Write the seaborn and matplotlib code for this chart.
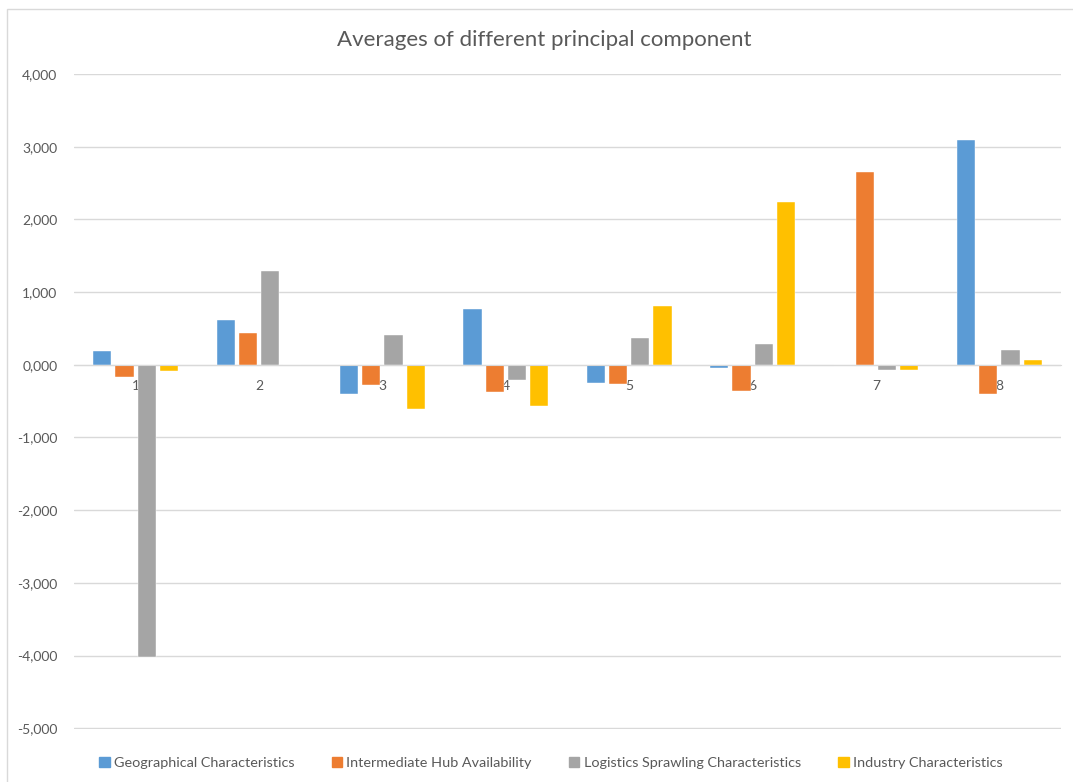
import seaborn as sns
import matplotlib.pyplot as plt
import matplotlib.patches as mpatches
from matplotlib.ticker import FuncFormatter
import pandas as pd

# componenti principali (asse x)
componenti = ["1", "2", "3", "4", "5", "6", "7", "8"]
serie = ["Geographical Characteristics", "Intermediate Hub Availability",
         "Logistics Sprawling Characteristics", "Industry Characteristics"]

# valori medi
geografiche = [0.183, 0.614, -0.403, 0.774, -0.252, -0.046, -0.023, 3.097]
hub = [-0.169, 0.435, -0.279, -0.381, -0.261, -0.367, 2.649, -0.399]
sprawling = [-4.014, 1.292, 0.403, -0.210, 0.375, 0.289, -0.078, 0.206]
industria = [-0.082, 0.0, -0.614, -0.573, 0.807, 2.237, -0.073, 0.064]

colori = ["#5B9BD5", "#ED7D31", "#A5A5A5", "#FFC000"]
grigio_testo = "#595959"

righe = []
for nome, valori in zip(serie, [geografiche, hub, sprawling, industria]):
    for c, v in zip(componenti, valori):
        righe.append({"componente": c, "serie": nome, "valore": v})
df = pd.DataFrame(righe)

sns.set_style("white")
plt.rcParams['font.family'] = ['Lato', 'DejaVu Sans']

fig = plt.figure(figsize=(10.73, 7.82), dpi=100)
ax = fig.add_axes([74 / 1073, 53 / 782, 987 / 1073, 655 / 782])

sns.barplot(data=df, x="componente", y="valore", hue="serie", order=componenti,
            hue_order=serie, palette=colori, saturation=1, width=0.72, gap=0.18,
            edgecolor="white", linewidth=0.3, ax=ax, legend=True)

ax.set_ylim(-5.01, 4)
ax.set_xlim(-0.5, 7.5)
ax.set_yticks(range(-5, 5))
ax.yaxis.set_major_formatter(FuncFormatter(lambda v, p: f"{v:.3f}".replace(".", ",")))
ax.grid(axis="y", color="#D9D9D9", linewidth=1)
ax.set_axisbelow(True)
for s in ["top", "right", "left"]:
    ax.spines[s].set_visible(False)
ax.spines["bottom"].set_position(("data", 0))
ax.spines["bottom"].set_color("#D9D9D9")
ax.tick_params(axis="both", length=0, labelsize=10, colors=grigio_testo)
ax.tick_params(axis="x", pad=11)
ax.tick_params(axis="y", pad=12)
ax.set_xlabel("")
ax.set_ylabel("")

fig.text(544 / 1073, 1 - 40 / 782, "Averages of different principal component",
         ha="center", va="center", fontsize=16, color=grigio_testo)

# legenda in basso
ax.get_legend().remove()
maniglie = [mpatches.Patch(color=c, label=s) for c, s in zip(colori, serie)]
fig.legend(handles=maniglie, loc="center", bbox_to_anchor=(551 / 1073, 1 - 763 / 782),
           ncol=4, frameon=False, fontsize=10.4, labelcolor=grigio_testo,
           handlelength=0.7, handleheight=0.7, handletextpad=0.3, columnspacing=2.6)

# bordo del grafico
bordo = mpatches.Rectangle((7 / 1073, -0.01), 1.02, 1 - 9 / 782 + 0.01, transform=fig.transFigure,
                           fill=False, edgecolor="#D9D9D9", linewidth=1, clip_on=False)
fig.patches.append(bordo)

fig.savefig("out.png", dpi=100)
